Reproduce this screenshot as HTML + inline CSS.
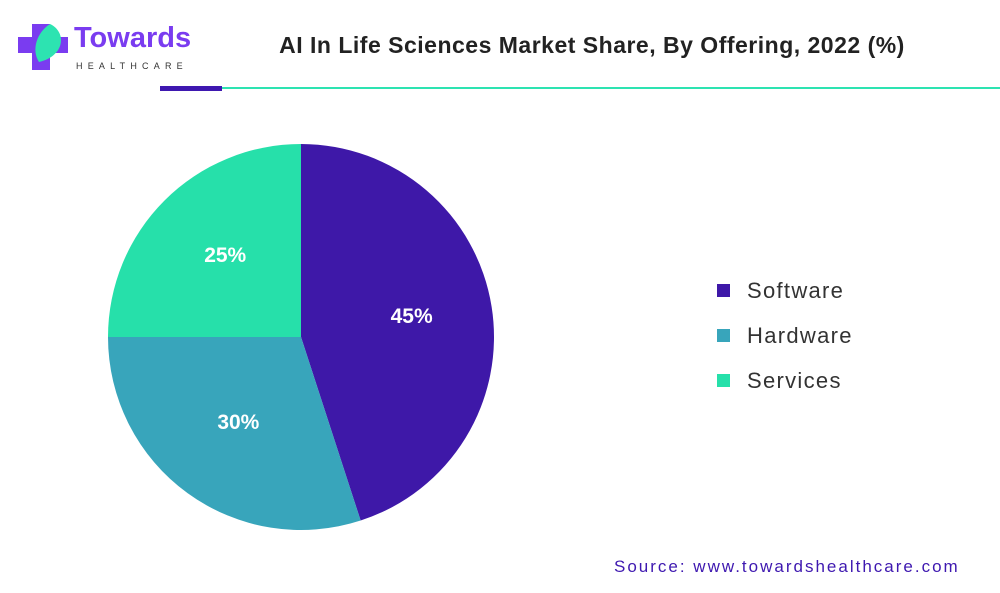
<!DOCTYPE html>
<html><head><meta charset="utf-8"><style>
body{margin:0;width:1000px;height:593px;background:#fff;font-family:"Liberation Sans",sans-serif;overflow:hidden;position:relative}
.abs{position:absolute}
</style></head><body>
<div class="abs" style="left:17px;top:18px;width:170px;height:60px">
<svg width="170" height="60"><path d="M14 4h18v13h18v16H32v17H14V33H0V17h14z" fill="#7a3cf0" transform="translate(1,2)"/><path d="M33 6 C50 14 48 38 22 44 C14 32 20 14 33 6z" fill="#2de3b1"/></svg>
<div class="abs" style="left:57px;top:4px;font-size:29px;font-weight:bold;color:#7a3cf0">Towards</div>
<div class="abs" style="left:59px;top:43px;font-size:9px;letter-spacing:5.2px;color:#333">HEALTHCARE</div>
</div>
<div class="abs" style="left:200px;top:32px;width:784px;text-align:center;font-size:23px;letter-spacing:0.5px;font-weight:bold;color:#222">AI In Life Sciences Market Share, By Offering, 2022 (%)</div>
<div class="abs" style="left:160px;top:86px;width:62px;height:5px;background:#3e18b0"></div>
<div class="abs" style="left:222px;top:87px;width:778px;height:2px;background:#2de3b1"></div>
<svg class="abs" style="left:0;top:0" width="1000" height="593" id="chart"></svg>
<div class="abs" style="left:614px;top:557px;font-size:17px;letter-spacing:2px;color:#3e18b0">Source: www.towardshealthcare.com</div>
<script>
const categories=["Software","Hardware","Services"];
const values=[45,30,25];
const colors=["#3e18a8","#38a5bb","#26e0aa"];
const svg=document.getElementById('chart');
const NS="http://www.w3.org/2000/svg";
const cx=301,cy=337,r=193;
const total=values.reduce((a,b)=>a+b,0);
let a0=0;
function pt(a,rr){return [cx+rr*Math.sin(a),cy-rr*Math.cos(a)];}
values.forEach((v,i)=>{
 const a1=a0+v/total*2*Math.PI;
 const p0=pt(a0,r),p1=pt(a1,r);
 const path=document.createElementNS(NS,'path');
 path.setAttribute('d',`M${cx},${cy}L${p0[0]},${p0[1]}A${r},${r} 0 ${a1-a0>Math.PI?1:0} 1 ${p1[0]},${p1[1]}Z`);
 path.setAttribute('fill',colors[i]);
 
 
 svg.appendChild(path);
 const m=pt((a0+a1)/2,r*0.57);
 const t=document.createElementNS(NS,'text');
 t.setAttribute('x',m[0]+2);t.setAttribute('y',m[1]+3);
 t.setAttribute('text-anchor','middle');t.setAttribute('fill','#fff');
 t.setAttribute('font-size','21');t.setAttribute('font-weight','bold');
 t.setAttribute('font-family','Liberation Sans, sans-serif');
 t.textContent=v+'%';
 
 
 svg.appendChild(t);
 const y=290+i*45;
 const sq=document.createElementNS(NS,'rect');
 sq.setAttribute('x',717);sq.setAttribute('y',y-6);sq.setAttribute('width',13);sq.setAttribute('height',13);
 sq.setAttribute('fill',colors[i]);
 
 
 svg.appendChild(sq);
 const lt=document.createElementNS(NS,'text');
 lt.setAttribute('x',747);lt.setAttribute('y',y+8);
 lt.setAttribute('font-size','22');lt.setAttribute('fill','#333');
 lt.setAttribute('letter-spacing','1.3');
 lt.setAttribute('font-family','Liberation Sans, sans-serif');
 lt.textContent=categories[i];
 
 
 svg.appendChild(lt);
 a0=a1;
});
</script>
</body></html>
